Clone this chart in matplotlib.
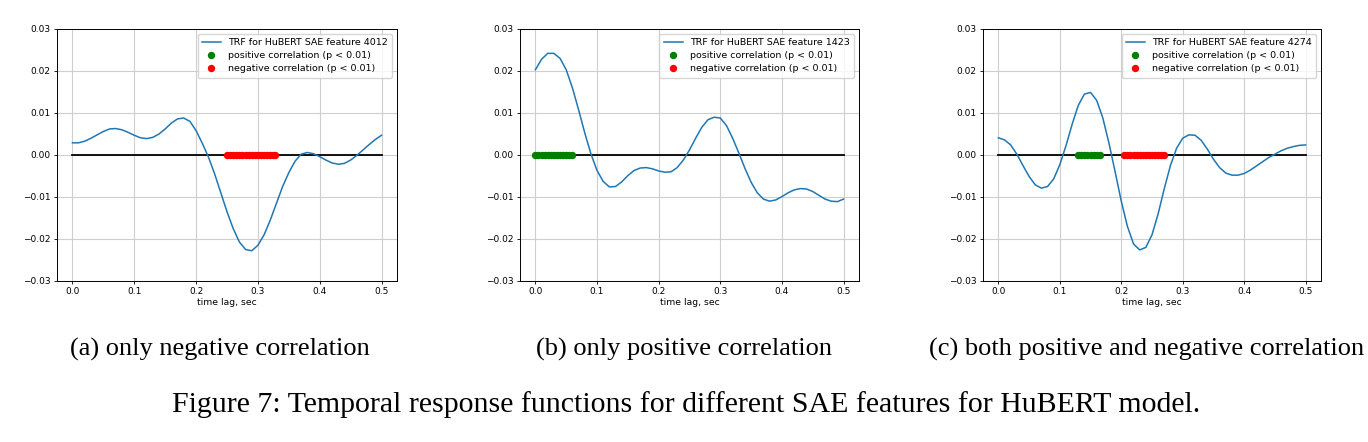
import matplotlib.pyplot as plt

lags = [0.00, 0.01, 0.02, 0.03, 0.04, 0.05, 0.06, 0.07, 0.08, 0.09,
        0.10, 0.11, 0.12, 0.13, 0.14, 0.15, 0.16, 0.17, 0.18, 0.19,
        0.20, 0.21, 0.22, 0.23, 0.24, 0.25, 0.26, 0.27, 0.28, 0.29,
        0.30, 0.31, 0.32, 0.33, 0.34, 0.35, 0.36, 0.37, 0.38, 0.39,
        0.40, 0.41, 0.42, 0.43, 0.44, 0.45, 0.46, 0.47, 0.48, 0.49, 0.50]

trf_4012 = [0.0029, 0.0029, 0.0033, 0.0040, 0.0048, 0.0056, 0.0062, 0.0063, 0.0060, 0.0054,
            0.0047, 0.0041, 0.0039, 0.0042, 0.0050, 0.0062, 0.0076, 0.0086, 0.0088, 0.0080,
            0.0058, 0.0028, -0.0005, -0.0045, -0.0090, -0.0135, -0.0175, -0.0207, -0.0225, -0.0228,
            -0.0215, -0.0190, -0.0155, -0.0115, -0.0075, -0.0042, -0.0015, 0.0002, 0.0006, 0.0003,
            -0.0004, -0.0012, -0.0019, -0.0022, -0.0020, -0.0012, -0.0001, 0.0012, 0.0025, 0.0037, 0.0047]

trf_1423 = [0.0203, 0.0228, 0.0242, 0.0242, 0.0230, 0.0203, 0.0160, 0.0108, 0.0053, 0.0003,
            -0.0037, -0.0063, -0.0076, -0.0075, -0.0064, -0.0049, -0.0037, -0.0031, -0.0030, -0.0033,
            -0.0038, -0.0041, -0.0040, -0.0030, -0.0012, 0.0012, 0.0040, 0.0066, 0.0084, 0.0090,
            0.0088, 0.0070, 0.0040, 0.0005, -0.0032, -0.0065, -0.0090, -0.0105, -0.0110, -0.0107,
            -0.0099, -0.0090, -0.0083, -0.0080, -0.0081, -0.0087, -0.0096, -0.0105, -0.0110, -0.0111, -0.0105]

trf_4274 = [0.0041, 0.0036, 0.0024, 0.0002, -0.0025, -0.0051, -0.0071, -0.0079, -0.0075, -0.0057,
            -0.0023, 0.0022, 0.0073, 0.0118, 0.0145, 0.0149, 0.0130, 0.0088, 0.0028, -0.0040,
            -0.0110, -0.0170, -0.0212, -0.0226, -0.0220, -0.0190, -0.0140, -0.0080, -0.0025, 0.0016,
            0.0040, 0.0048, 0.0047, 0.0035, 0.0014, -0.0010, -0.0030, -0.0043, -0.0048, -0.0048,
            -0.0044, -0.0036, -0.0026, -0.0016, -0.0006, 0.0002, 0.0010, 0.0016, 0.0020, 0.0023, 0.0024]

# significant lags (p < 0.01)
pos_4012 = []
neg_4012 = [0.250, 0.255, 0.260, 0.265, 0.270, 0.275, 0.280, 0.285, 0.290,
            0.295, 0.300, 0.305, 0.310, 0.315, 0.320, 0.325, 0.328]
pos_1423 = [0.000, 0.005, 0.010, 0.015, 0.020, 0.025, 0.030, 0.035, 0.040,
            0.045, 0.050, 0.055, 0.060]
neg_1423 = []
pos_4274 = [0.130, 0.135, 0.140, 0.145, 0.150, 0.155, 0.160, 0.165]
neg_4274 = [0.205, 0.210, 0.215, 0.220, 0.225, 0.230, 0.235, 0.240, 0.245,
            0.250, 0.255, 0.260, 0.265, 0.270]

features = ["4012", "1423", "4274"]
curves = [trf_4012, trf_1423, trf_4274]
pos_lags = [pos_4012, pos_1423, pos_4274]
neg_lags = [neg_4012, neg_1423, neg_4274]
subcaptions = ["(a) only negative correlation",
               "(b) only positive correlation",
               "(c) both positive and negative correlation"]

W, H = 1368, 442
fig = plt.figure(figsize=(W / 100, H / 100), dpi=100)

# axes boxes in pixels: left, right, top, bottom
boxes = [(57, 397, 29, 281), (520, 859, 29, 281), (983, 1321, 29, 281)]
caption_x = [220, 684, 1147]

for i in range(3):
    l, r, t, b = boxes[i]
    ax = fig.add_axes([l / W, 1 - b / H, (r - l) / W, (b - t) / H])
    ax.plot(lags, curves[i], color="#1f77b4", lw=1.1, zorder=3,
            label="TRF for HuBERT SAE feature {}".format(features[i]))
    ax.plot([lags[0], lags[-1]], [0, 0], color="black", lw=1.3, zorder=2)
    ax.plot(pos_lags[i], [0] * len(pos_lags[i]), "o", color="green", ms=4.3,
            zorder=4, label="positive correlation (p < 0.01)")
    ax.plot(neg_lags[i], [0] * len(neg_lags[i]), "o", color="red", ms=4.3,
            zorder=4, label="negative correlation (p < 0.01)")
    ax.set_xlim(-0.025, 0.525)
    ax.set_ylim(-0.03, 0.03)
    ax.set_xticks([0.0, 0.1, 0.2, 0.3, 0.4, 0.5])
    ax.set_yticks([-0.03, -0.02, -0.01, 0.0, 0.01, 0.02, 0.03])
    ax.grid(True, color="#cfcfcf", lw=0.8)
    ax.tick_params(labelsize=6.5, length=2.5, width=0.6, pad=2)
    ax.set_xlabel("time lag, sec", fontsize=6.7, labelpad=1)
    for s in ax.spines.values():
        s.set_linewidth(0.7)
    ax.legend(loc="upper right", fontsize=6.8, handlelength=2.0,
              borderpad=0.45, labelspacing=0.45, framealpha=0.8)
    fig.text(caption_x[i] / W, 1 - 356 / H, subcaptions[i], ha="center",
             va="baseline", fontsize=19, family="Liberation Serif")

fig.text(686 / W, 1 - 412 / H,
         "Figure 7: Temporal response functions for different SAE features for HuBERT model.",
         ha="center", va="baseline", fontsize=21.5, family="Liberation Serif")

fig.savefig("out.png", dpi=100)
